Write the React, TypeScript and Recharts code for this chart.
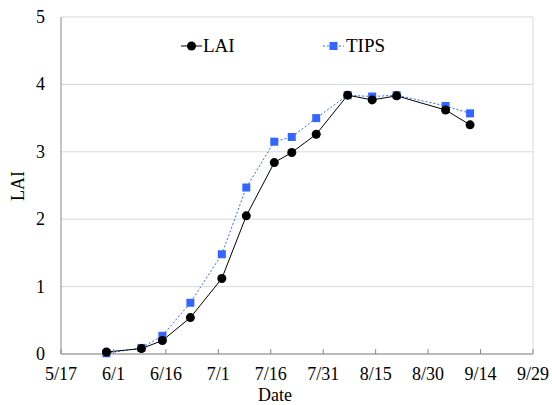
import React from 'react';
import { LineChart, Line, XAxis, YAxis, CartesianGrid, ReferenceLine } from 'recharts';

// days after 5/17 for each sampling date
const sampleDays = [13, 23, 29, 37, 46, 53, 61, 66, 73, 82, 89, 96, 110, 117];
const laiValues = [0.03, 0.08, 0.2, 0.54, 1.12, 2.05, 2.84, 2.99, 3.26, 3.84, 3.77, 3.83, 3.62, 3.4];
const tipsValues = [0.01, 0.09, 0.27, 0.76, 1.48, 2.47, 3.15, 3.22, 3.5, 3.84, 3.82, 3.84, 3.68, 3.57];
const xTicks = [0, 15, 30, 45, 60, 75, 90, 105, 120, 135];
const xTickLabels = ['5/17', '6/1', '6/16', '7/1', '7/16', '7/31', '8/15', '8/30', '9/14', '9/29'];
const yTicks = [0, 1, 2, 3, 4, 5];

const data = sampleDays.map((day, i) => ({ day, lai: laiValues[i], tips: tipsValues[i] }));

const FONT = '"Liberation Serif", "Times New Roman", serif';
const BLUE = '#3366ff';

function CircleDot({ cx, cy }: any) {
  if (cx == null || cy == null) return null;
  return <circle cx={cx} cy={cy} r={4.5} fill="#000" />;
}

function SquareDot({ cx, cy }: any) {
  if (cx == null || cy == null) return null;
  return <rect x={cx - 4} y={cy - 4} width={8} height={8} fill={BLUE} />;
}

function XTick({ x, y, payload }: any) {
  const idx = xTicks.indexOf(payload.value);
  return (
    <g>
      <line x1={x} y1={y} x2={x} y2={y - 5} stroke="#888" />
      <text x={x} y={y + 26} textAnchor="middle" fontFamily={FONT} fontSize={18} fill="#000">
        {xTickLabels[idx]}
      </text>
    </g>
  );
}

function YTick({ x, y, payload }: any) {
  return (
    <text x={x} y={y + 6} textAnchor="end" fontFamily={FONT} fontSize={18} fill="#000">
      {payload.value}
    </text>
  );
}

function ChartLegend() {
  return (
    <svg width={240} height={24} style={{ position: 'absolute', left: 181, top: 34, overflow: 'visible' }}>
      <line x1={0} y1={12} x2={21} y2={12} stroke="#000" strokeWidth={1} />
      <circle cx={10.5} cy={12} r={4.5} fill="#000" />
      <text x={22} y={18} fontFamily={FONT} fontSize={19} fill="#000">LAI</text>
      <line x1={142} y1={12} x2={163} y2={12} stroke={BLUE} strokeWidth={1} strokeDasharray="2 2" />
      <rect x={148.5} y={8} width={8} height={8} fill={BLUE} />
      <text x={165} y={18} fontFamily={FONT} fontSize={19} fill="#000">TIPS</text>
    </svg>
  );
}

export default function App() {
  return (
    <div style={{ position: 'absolute', left: 0, top: 0, width: 552, height: 405, background: '#fff' }}>
      <LineChart
        width={552}
        height={405}
        data={data}
        margin={{ top: 17, right: 19, left: 0, bottom: 0 }}
      >
        <CartesianGrid stroke="#d9d9d9" vertical={false} />
        <XAxis
          dataKey="day"
          type="number"
          domain={[0, 135]}
          ticks={xTicks}
          height={51}
          tickSize={0}
          tickMargin={0}
          axisLine={{ stroke: '#888' }}
          tickLine={false}
          tick={<XTick />}
          interval={0}
          label={() => (
            <text x={275} y={401} textAnchor="middle" fontFamily={FONT} fontSize={18} fill="#000">Date</text>
          )}
        />
        <YAxis
          type="number"
          domain={[0, 5]}
          ticks={yTicks}
          width={61}
          tickSize={0}
          tickMargin={16}
          axisLine={{ stroke: '#888' }}
          tickLine={false}
          tick={<YTick />}
          interval={0}
          label={() => (
            <text x={24} y={186} transform="rotate(-90 24 186)" textAnchor="middle" fontFamily={FONT} fontSize={18} fill="#000">LAI</text>
          )}
        />
        {/* right border of plot area */}
        <ReferenceLine x={135} stroke="#d9d9d9" />
        <Line
          dataKey="tips"
          stroke={BLUE}
          strokeWidth={1}
          strokeDasharray="2 2"
          dot={<SquareDot />}
          activeDot={false}
          isAnimationActive={false}
        />
        <Line
          dataKey="lai"
          stroke="#000"
          strokeWidth={1}
          dot={<CircleDot />}
          activeDot={false}
          isAnimationActive={false}
        />
      </LineChart>
      <ChartLegend />
    </div>
  );
}
